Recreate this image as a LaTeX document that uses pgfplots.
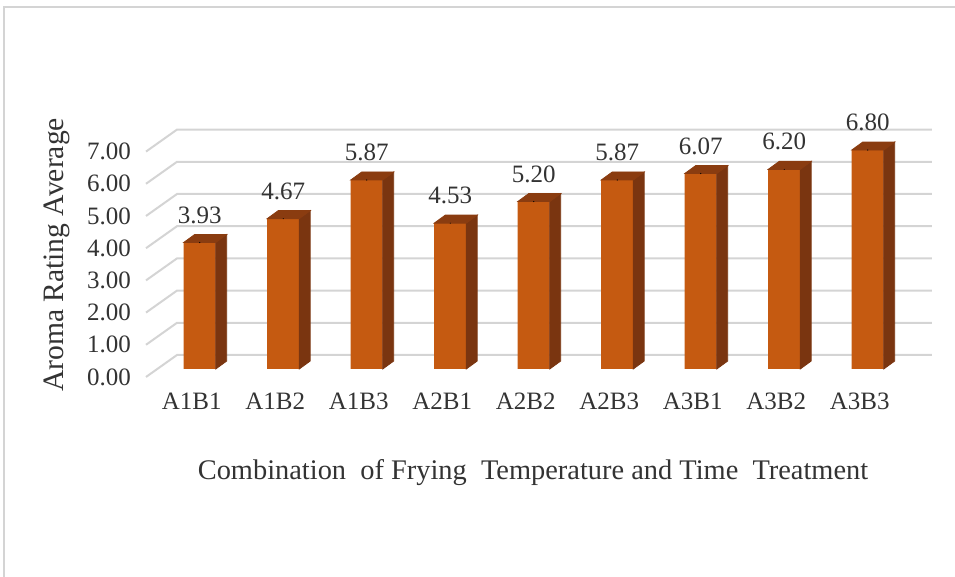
\documentclass[border=0pt]{standalone}
\usepackage{pgfplots}
\pgfplotsset{compat=1.18}
\usepackage{pgfplotstable}
\usepackage{fontspec}
\setmainfont{Liberation Serif}
\definecolor{barfront}{HTML}{C55A11}
\definecolor{barside}{HTML}{7A3510}
\definecolor{bartop}{HTML}{8A3C10}
\definecolor{gridc}{HTML}{D4D4D4}
\definecolor{textc}{HTML}{333333}
\pgfplotstableread{
x v
0 3.93
1 4.67
2 5.87
3 4.53
4 5.20
5 5.87
6 6.07
7 6.20
8 6.80
}\datatable
\begin{document}
\begin{tikzpicture}[x=1pt,y=1pt]
\useasboundingbox (0,0) rectangle (477.5,288.5);
\draw[gridc, line width=1pt] (2,0) -- (2,285) -- (477.5,285);
\begin{axis}[
  at={(79pt,104pt)}, anchor=south west,
  x=41.75pt, y=16.1pt,
  xmin=-0.5, xmax=8.5, ymin=0, ymax=7,
  clip=false,
  axis line style={draw=none},
  major tick length=0pt,
  xtick={0,...,8},
  xticklabels={A1B1,A1B2,A1B3,A2B1,A2B2,A2B3,A3B1,A3B2,A3B3},
  ytick={0,...,7},
  /pgf/number format/.cd, fixed, fixed zerofill, precision=2, assume math mode=true, /pgfplots/.cd,
  ticklabel style={font=\fontsize{12.5}{14}\selectfont, text=textc},
  yticklabel style={anchor=east, xshift=-10pt, yshift=-4pt},
  xticklabel style={anchor=north, xshift=-4pt, yshift=-8.5pt},
]
\pgfplotsinvokeforeach{0,...,7}{
  \draw[gridc, line width=1pt] ([shift={(-6pt,-4pt)}]axis cs:-0.5,#1) -- ([shift={(9.5pt,7pt)}]axis cs:-0.5,#1) -- ([shift={(9.5pt,7pt)}]axis cs:8.54,#1);
}
\addplot[ybar, bar width=16pt, fill=barfront, draw=none,
  nodes near coords,
  every node near coord/.append style={font=\fontsize{12.5}{14}\selectfont, text=textc, yshift=6pt}]
  table[x=x,y=v]{\datatable};
\addplot[scatter, only marks, mark=*, mark size=0.01pt, mark options={draw=none,fill=none},
  visualization depends on={rawy \as \val},
  scatter/@pre marker code/.code={
    \pgfmathsetmacro\hh{-\val*16.1}
    \pgfmathsetmacro\hb{4-\val*16.1}
    \fill[barside] (8pt,0pt) -- (13.5pt,4pt) -- (13.5pt,\hb pt) -- (8pt,\hh pt) -- cycle;
    \fill[bartop] (-8pt,0pt) -- (8pt,0pt) -- (13.5pt,4pt) -- (-2.5pt,4pt) -- cycle;
  },
  scatter/@post marker code/.code={}
] table[x=x,y=v]{\datatable};
\end{axis}
\node[font=\fontsize{14.2}{16}\selectfont, text=textc] at (266.5,52) {Combination\ \ of Frying\ \ Temperature and Time\ \ Treatment};
\node[rotate=90, font=\fontsize{14.8}{16}\selectfont, text=textc] at (28.5,161) {Aroma Rating Average};
\end{tikzpicture}
\end{document}
